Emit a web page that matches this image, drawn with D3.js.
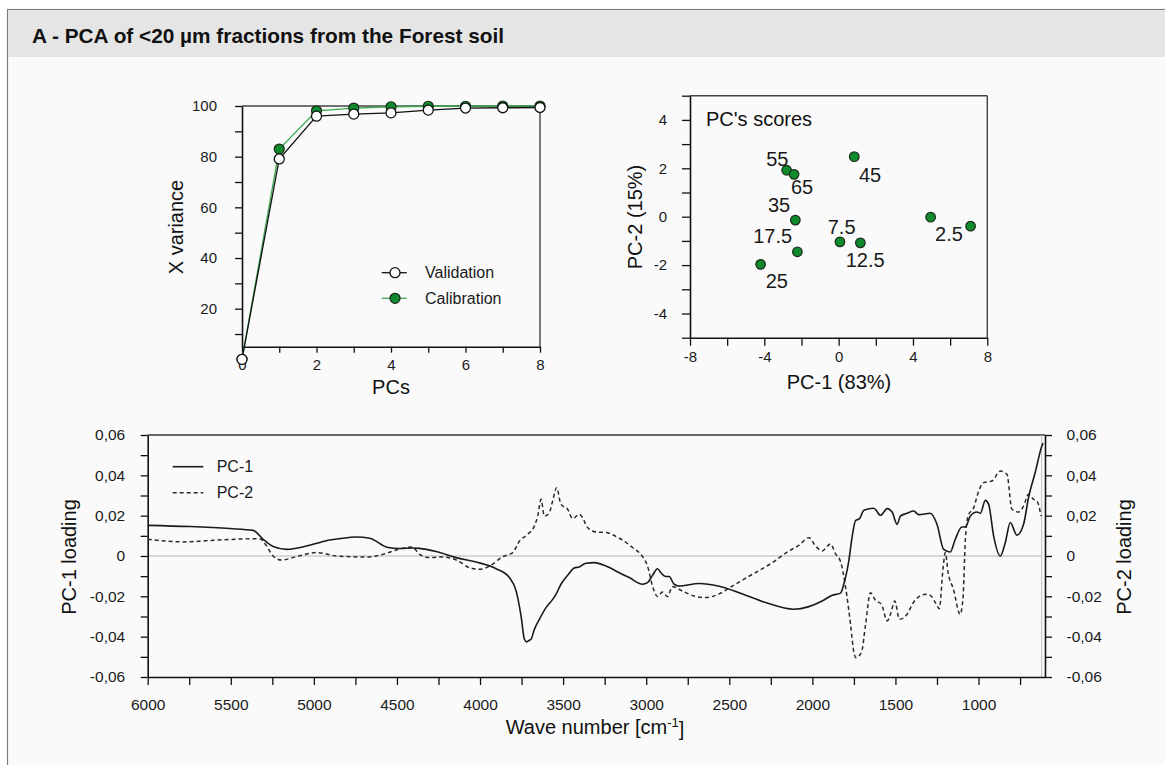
<!DOCTYPE html>
<html>
<head>
<meta charset="utf-8">
<script src="https://cdn.jsdelivr.net/npm/d3@7"></script>
<style>
  html, body { margin: 0; padding: 0; background: #ffffff; }
  svg { display: block; font-family: "Liberation Sans", Arial, sans-serif; }
</style>
</head>
<body>
<svg id="chart" width="1165" height="765"></svg>
<script>
// ---------------- DATA ----------------
const titleText = "A - PCA of <20 µm fractions from the Forest soil";

// Explained X variance vs number of PCs
const pcs = [0, 1, 2, 3, 4, 5, 6, 7, 8];
const validation = [0, 79.1, 96.0, 96.8, 97.3, 98.4, 99.2, 99.3, 99.4];
const calibration = [0, 83.0, 98.1, 99.2, 99.7, 99.9, 99.9, 100, 100];
const varianceLegend = ["Validation", "Calibration"];

// PC scores
const scorePC1 = [-2.8, -2.4, 0.84, -2.33, -2.22, -4.2, 0.07, 1.17, 4.95, 7.1];
const scorePC2 = [1.92, 1.75, 2.48, -0.14, -1.45, -1.97, -1.04, -1.08, -0.02, -0.39];
const scoreLabels = ["55", "65", "45", "35", "17.5", "25", "7.5", "12.5", "2.5"];
const scoreLabelPC1 = [-3.30, -1.97, 1.69, -3.21, -3.55, -3.33, 0.16, 1.43, 5.94];
const scoreLabelPC2 = [2.41, 1.22, 1.75, 0.48, -0.80, -2.66, -0.43, -1.77, -0.69];

// Loadings
const pc1Wave = [6000,5746,5505,5366,5305,5245,5165,5005,4905,4845,4744,4664,4554,4484,4404,4364,4264,4143,4023,3903,3823,3783,3753,3733,3719,3703,3693,3673,3643,3603,3563,3543,3513,3473,3433,3403,3362,3312,3242,3162,3102,3022,2992,2962,2932,2912,2882,2862,2832,2802,2682,2561,2441,2281,2111,2021,1941,1881,1830,1811,1780,1760,1740,1716,1690,1630,1590,1550,1520,1490,1470,1430,1390,1360,1290,1250,1210,1170,1140,1100,1079,1049,1010,989,959,939,909,869,839,809,769,729,699,659,619,612];
const pc1Load = [0.0152,0.0146,0.0136,0.0127,0.0083,0.0047,0.0033,0.0058,0.0079,0.0086,0.0094,0.0088,0.0042,0.0037,0.0040,0.0038,0.0022,-0.0008,-0.0030,-0.0063,-0.0107,-0.0173,-0.0298,-0.0413,-0.0426,-0.0418,-0.0413,-0.0364,-0.0314,-0.0256,-0.0215,-0.0190,-0.0140,-0.0096,-0.0059,-0.0054,-0.0036,-0.0033,-0.0050,-0.0083,-0.0107,-0.0140,-0.0132,-0.0096,-0.0063,-0.0083,-0.0102,-0.0102,-0.0140,-0.0149,-0.0136,-0.0150,-0.0182,-0.0231,-0.0264,-0.0251,-0.0223,-0.0195,-0.0184,-0.0140,-0.0020,0.0099,0.0176,0.0185,0.0227,0.0237,0.0202,0.0235,0.0218,0.0157,0.0198,0.0212,0.0223,0.0205,0.0212,0.0157,0.0033,0.0020,0.0083,0.0144,0.0144,0.0198,0.0218,0.0212,0.0276,0.0256,0.0099,0.0000,0.0066,0.0166,0.0103,0.0157,0.0290,0.0414,0.0545,0.0560];

const pc2Wave = [6000,5786,5586,5325,5285,5245,5195,5105,4985,4925,4864,4684,4584,4504,4444,4408,4364,4304,4224,4143,4063,4003,3943,3863,3803,3763,3713,3673,3653,3633,3613,3583,3563,3539,3513,3473,3443,3403,3383,3353,3302,3242,3162,3082,3022,2992,2962,2932,2902,2872,2842,2782,2701,2641,2561,2482,2361,2241,2141,2081,2021,1981,1941,1891,1860,1830,1800,1770,1750,1738,1704,1680,1650,1620,1584,1550,1530,1504,1476,1430,1390,1320,1290,1260,1236,1214,1200,1183,1151,1111,1094,1079,1063,1029,999,969,919,869,829,799,759,729,699,669,649,623];
const pc2Load = [0.0083,0.0070,0.0079,0.0086,0.0050,0.0000,-0.0020,-0.0003,0.0017,0.0010,0.0000,-0.0005,0.0008,0.0030,0.0042,0.0045,0.0008,-0.0008,-0.0005,-0.0020,-0.0058,-0.0066,-0.0050,-0.0003,0.0017,0.0074,0.0108,0.0149,0.0198,0.0281,0.0198,0.0215,0.0273,0.0339,0.0256,0.0232,0.0185,0.0207,0.0190,0.0141,0.0119,0.0116,0.0088,0.0042,-0.0003,-0.0050,-0.0149,-0.0201,-0.0179,-0.0201,-0.0152,-0.0174,-0.0201,-0.0206,-0.0188,-0.0149,-0.0091,-0.0033,0.0025,0.0053,0.0091,0.0050,0.0025,0.0060,0.0010,-0.0028,-0.0155,-0.0340,-0.0479,-0.0504,-0.0476,-0.0340,-0.0182,-0.0220,-0.0240,-0.0322,-0.0289,-0.0223,-0.0314,-0.0289,-0.0228,-0.0190,-0.0195,-0.0231,-0.0261,-0.0066,0.0017,-0.0083,-0.0165,-0.0289,-0.0215,0.0083,0.0198,0.0240,0.0322,0.0364,0.0372,0.0421,0.0405,0.0232,0.0218,0.0248,0.0306,0.0281,0.0273,0.0198];
const loadingLegend = ["PC-1", "PC-2"];

// Tick values
const varXTicks = [0, 1, 2, 3, 4, 5, 6, 7, 8];
const varYTicks = [10, 20, 30, 40, 50, 60, 70, 80, 90, 100];
const scoreXTicks = [-8, -6, -4, -2, 0, 2, 4, 6, 8];
const scoreYTicks = [-5, -4, -3, -2, -1, 0, 1, 2, 3, 4, 5];
const waveTicks = [6000,5750,5500,5250,5000,4750,4500,4250,4000,3750,3500,3250,3000,2750,2500,2250,2000,1750,1500,1250,1000,750];
const loadTicks = [-0.06,-0.05,-0.04,-0.03,-0.02,-0.01,0,0.01,0.02,0.03,0.04,0.05,0.06];

// ---------------- DRAWING ----------------
const svg = d3.select("#chart");
const FONT = '"Liberation Sans", Arial, sans-serif';
const GREEN_FILL = "#0f8a2c";
const GREEN_LINE = "#3aa64e";

// Panel background & header
svg.append("rect").attr("x", 0).attr("y", 0).attr("width", 1165).attr("height", 765).attr("fill", "#ffffff");
svg.append("rect").attr("x", 7.5).attr("y", 9.5).attr("width", 1200).attr("height", 800)
  .attr("fill", "#fafafa").attr("stroke", "#7d7d7d").attr("stroke-width", 1.2);
svg.append("rect").attr("x", 8).attr("y", 10).attr("width", 1200).attr("height", 47).attr("fill", "#e5e5e5");
svg.append("text").attr("x", 32).attr("y", 43).attr("font-size", 20.8).attr("font-weight", "bold")
  .attr("fill", "#111").text(titleText);

function styleAxis(g, fs) {
  g.select(".domain").attr("stroke", "#111").attr("stroke-width", 1.6);
  g.selectAll(".tick line").attr("stroke", "#111").attr("stroke-width", 1.3);
  g.selectAll(".tick text").attr("fill", "#1a1a1a").attr("font-size", fs).attr("font-family", FONT);
}
const dashFmt = d => (d < 0 ? "-" : "") + Math.abs(d);
const commaFmt = d => d === 0 ? "0" : (d < 0 ? "-" : "") + Math.abs(d).toFixed(2).replace(".", ",");

// ===== Panel 1: X variance =====
{
  const x = d3.scaleLinear().domain([0, 8]).range([242, 540]);
  const y = d3.scaleLinear().domain([5, 100]).range([346.7, 106]);
  svg.append("line").attr("x1", x(0)).attr("x2", x(8)).attr("y1", y(100)).attr("y2", y(100)).attr("stroke", "#444").attr("stroke-width", 1.4);
  svg.append("line").attr("x1", x(8)).attr("x2", x(8)).attr("y1", y(100)).attr("y2", y(5)).attr("stroke", "#444").attr("stroke-width", 1.4);

  const gx = svg.append("g").attr("transform", `translate(0,${y(5)})`)
    .call(d3.axisBottom(x).tickValues(varXTicks).tickSize(6).tickSizeOuter(0).tickPadding(7)
      .tickFormat(d => d % 2 === 0 ? dashFmt(d) : ""));
  styleAxis(gx, 15);
  const gy = svg.append("g").attr("transform", `translate(${x(0)},0)`)
    .call(d3.axisLeft(y).tickValues(varYTicks).tickSize(7).tickSizeOuter(0).tickPadding(18)
      .tickFormat(d => d % 20 === 0 ? d : ""));
  styleAxis(gy, 15);

  const line = d3.line().x((d, i) => x(pcs[i])).y(d => y(d));
  svg.append("path").datum(calibration).attr("d", line).attr("fill", "none").attr("stroke", GREEN_LINE).attr("stroke-width", 1.3);
  svg.append("path").datum(validation).attr("d", line).attr("fill", "none").attr("stroke", "#111").attr("stroke-width", 1.3);
  svg.append("g").selectAll("circle").data(calibration).join("circle")
    .attr("cx", (d, i) => x(pcs[i])).attr("cy", d => y(d)).attr("r", 5)
    .attr("fill", GREEN_FILL).attr("stroke", "#1b2a1b").attr("stroke-width", 1.2);
  svg.append("g").selectAll("circle").data(validation).join("circle")
    .attr("cx", (d, i) => x(pcs[i])).attr("cy", d => y(d)).attr("r", 5)
    .attr("fill", "#ffffff").attr("stroke", "#111").attr("stroke-width", 1.3);

  const lg = [{ t: varianceLegend[0], fill: "#ffffff", stroke: "#111", line: "#111", yy: 272.7 },
              { t: varianceLegend[1], fill: GREEN_FILL, stroke: "#1b2a1b", line: GREEN_LINE, yy: 298.3 }];
  lg.forEach(l => {
    svg.append("line").attr("x1", 381.7).attr("x2", 406.7).attr("y1", l.yy).attr("y2", l.yy).attr("stroke", l.line).attr("stroke-width", 1.3);
    svg.append("circle").attr("cx", 395).attr("cy", l.yy).attr("r", 5).attr("fill", l.fill).attr("stroke", l.stroke).attr("stroke-width", 1.3);
    svg.append("text").attr("x", 425).attr("y", l.yy).attr("dy", "0.35em").attr("font-size", 16).attr("fill", "#1a1a1a").text(l.t);
  });

  svg.append("text").attr("transform", "translate(176,227) rotate(-90)").attr("text-anchor", "middle")
    .attr("dy", "0.35em").attr("font-size", 20).attr("fill", "#111").text("X variance");
  svg.append("text").attr("x", 391).attr("y", 387).attr("text-anchor", "middle")
    .attr("dy", "0.35em").attr("font-size", 20).attr("fill", "#111").text("PCs");
}

// ===== Panel 2: PC scores =====
{
  const x = d3.scaleLinear().domain([-8, 8]).range([690, 987.3]);
  const y = d3.scaleLinear().domain([-5, 5]).range([337.7, 95.7]);
  svg.append("line").attr("x1", x(-8)).attr("x2", x(8)).attr("y1", y(5)).attr("y2", y(5)).attr("stroke", "#444").attr("stroke-width", 1.4);
  svg.append("line").attr("x1", x(8)).attr("x2", x(8)).attr("y1", y(5)).attr("y2", y(-5)).attr("stroke", "#444").attr("stroke-width", 1.4);

  const gx = svg.append("g").attr("transform", `translate(0,${y(-5)})`)
    .call(d3.axisBottom(x).tickValues(scoreXTicks).tickSize(8).tickSizeOuter(0).tickPadding(6)
      .tickFormat(d => d % 4 === 0 ? dashFmt(d) : ""));
  styleAxis(gx, 15);
  const gy = svg.append("g").attr("transform", `translate(${x(-8)},0)`)
    .call(d3.axisLeft(y).tickValues(scoreYTicks).tickSize(8).tickSizeOuter(0).tickPadding(15)
      .tickFormat(d => (d % 2 === 0) ? dashFmt(d) : ""));
  styleAxis(gy, 15);

  svg.append("g").selectAll("circle").data(scorePC1).join("circle")
    .attr("cx", d => x(d)).attr("cy", (d, i) => y(scorePC2[i])).attr("r", 4.8)
    .attr("fill", GREEN_FILL).attr("stroke", "#1b2a1b").attr("stroke-width", 1.2);
  svg.append("g").selectAll("text").data(scoreLabels).join("text")
    .attr("x", (d, i) => x(scoreLabelPC1[i])).attr("y", (d, i) => y(scoreLabelPC2[i]))
    .attr("text-anchor", "middle").attr("dy", "0.36em").attr("font-size", 20).attr("fill", "#1a1a1a").text(d => d);

  svg.append("text").attr("x", 706).attr("y", 119).attr("dy", "0.36em").attr("font-size", 20).attr("fill", "#111").text("PC's scores");
  svg.append("text").attr("transform", "translate(635,217) rotate(-90)").attr("text-anchor", "middle")
    .attr("dy", "0.35em").attr("font-size", 20).attr("fill", "#111").text("PC-2 (15%)");
  svg.append("text").attr("x", 839).attr("y", 381.5).attr("text-anchor", "middle")
    .attr("dy", "0.35em").attr("font-size", 20).attr("fill", "#111").text("PC-1 (83%)");
}

// ===== Panel 3: Loadings =====
{
  const x = d3.scaleLinear().domain([6000, 600]).range([147.7, 1045]);
  const y = d3.scaleLinear().domain([-0.06, 0.06]).range([677, 435]);
  svg.append("line").attr("x1", x(6000)).attr("x2", x(600)).attr("y1", y(0.06)).attr("y2", y(0.06)).attr("stroke", "#6a6a6a").attr("stroke-width", 2);
  svg.append("line").attr("x1", x(6000)).attr("x2", x(620)).attr("y1", y(0)).attr("y2", y(0)).attr("stroke", "#cccccc").attr("stroke-width", 1.5);
  svg.append("line").attr("x1", x(620)).attr("x2", x(620)).attr("y1", y(0.06)).attr("y2", y(-0.06)).attr("stroke", "#bdbdbd").attr("stroke-width", 1);

  const gx = svg.append("g").attr("transform", `translate(0,${y(-0.06)})`)
    .call(d3.axisBottom(x).tickValues(waveTicks).tickSize(8).tickSizeOuter(0).tickPadding(14)
      .tickFormat(d => d % 500 === 0 ? d : ""));
  styleAxis(gx, 15.5);
  const gy = svg.append("g").attr("transform", `translate(${x(6000)},0)`)
    .call(d3.axisLeft(y).tickValues(loadTicks).tickSize(7).tickSizeOuter(0).tickPadding(15.5)
      .tickFormat(d => Math.round(d * 100) % 2 === 0 ? commaFmt(d) : ""));
  styleAxis(gy, 15.5);
  const gy2 = svg.append("g").attr("transform", `translate(${x(600)},0)`)
    .call(d3.axisRight(y).tickValues(loadTicks).tickSize(7).tickSizeOuter(0).tickPadding(14.5)
      .tickFormat(d => Math.round(d * 100) % 2 === 0 ? commaFmt(d) : ""));
  styleAxis(gy2, 15.5);

  const line = d3.line().curve(d3.curveMonotoneX);
  const pc1Pts = pc1Wave.map((w, i) => [x(w), y(pc1Load[i])]);
  const pc2Pts = pc2Wave.map((w, i) => [x(w), y(pc2Load[i])]);
  svg.append("path").attr("d", line(pc2Pts)).attr("fill", "none").attr("stroke", "#2a2a2a")
    .attr("stroke-width", 1.5).attr("stroke-dasharray", "4,3");
  svg.append("path").attr("d", line(pc1Pts)).attr("fill", "none").attr("stroke", "#1a1a1a").attr("stroke-width", 1.6);

  svg.append("line").attr("x1", 172.7).attr("x2", 203.3).attr("y1", 466.7).attr("y2", 466.7).attr("stroke", "#1a1a1a").attr("stroke-width", 1.6);
  svg.append("text").attr("x", 216.7).attr("y", 466.7).attr("dy", "0.35em").attr("font-size", 16).attr("fill", "#1a1a1a").text(loadingLegend[0]);
  svg.append("line").attr("x1", 172.7).attr("x2", 203.3).attr("y1", 492.7).attr("y2", 492.7).attr("stroke", "#2a2a2a").attr("stroke-width", 1.5).attr("stroke-dasharray", "4,3");
  svg.append("text").attr("x", 216.7).attr("y", 492.7).attr("dy", "0.35em").attr("font-size", 16).attr("fill", "#1a1a1a").text(loadingLegend[1]);

  svg.append("text").attr("transform", "translate(69,557) rotate(-90)").attr("text-anchor", "middle")
    .attr("dy", "0.35em").attr("font-size", 20).attr("fill", "#111").text("PC-1 loading");
  svg.append("text").attr("transform", "translate(1124,557) rotate(-90)").attr("text-anchor", "middle")
    .attr("dy", "0.35em").attr("font-size", 20).attr("fill", "#111").text("PC-2 loading");
  const wt = svg.append("text").attr("x", 595).attr("y", 727).attr("text-anchor", "middle")
    .attr("dy", "0.35em").attr("font-size", 20).attr("fill", "#111");
  wt.append("tspan").text("Wave number [cm");
  wt.append("tspan").attr("font-size", 13).attr("dy", "-0.55em").text("-1");
  wt.append("tspan").attr("dy", "0.45em").text("]");
}
</script>
</body>
</html>
